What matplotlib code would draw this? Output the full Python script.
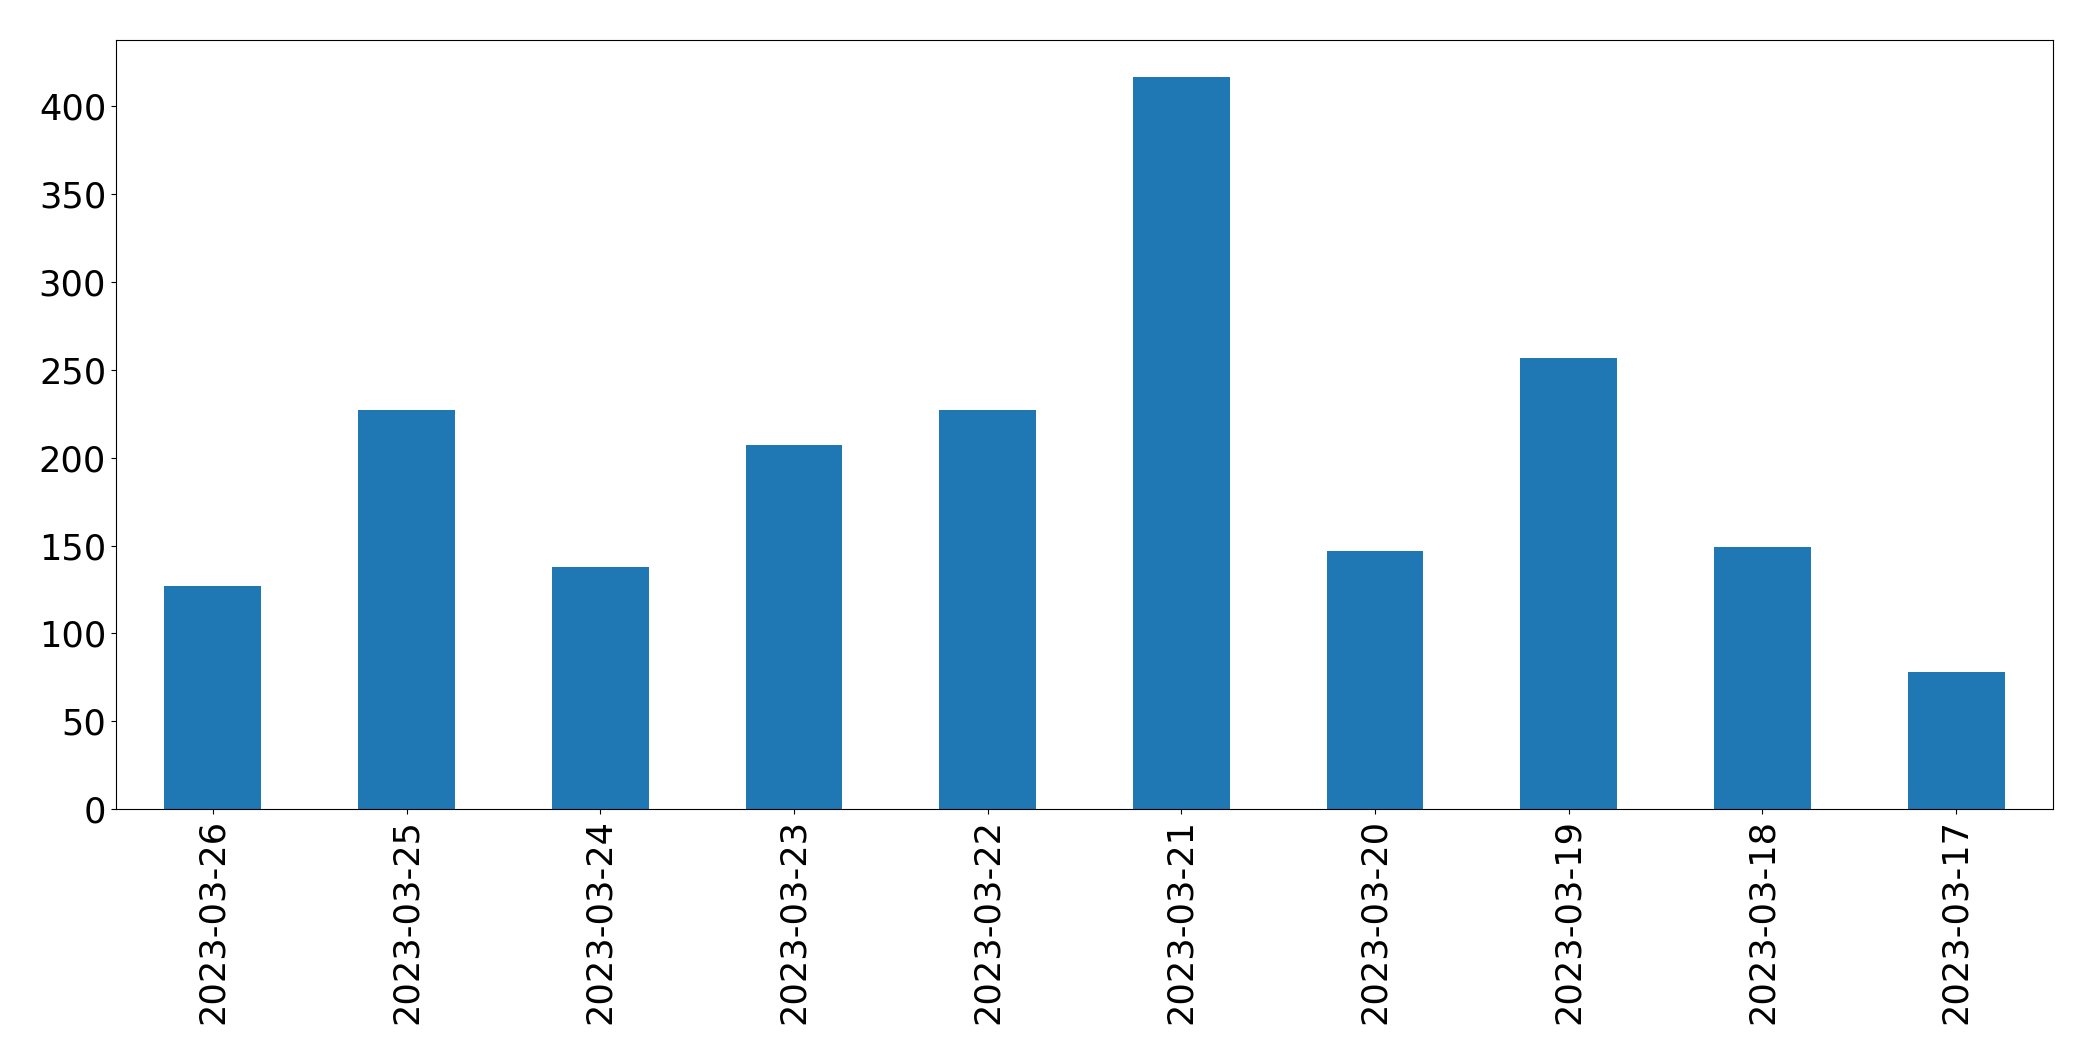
import matplotlib
matplotlib.use('Agg')
import matplotlib.pyplot as plt

# 每天的数量
dates = ['2023-03-26', '2023-03-25', '2023-03-24', '2023-03-23', '2023-03-22',
         '2023-03-21', '2023-03-20', '2023-03-19', '2023-03-18', '2023-03-17']
counts = [127, 227, 138, 207, 227, 417, 147, 257, 149, 78]

fig = plt.figure(figsize=(20.93, 10.61), dpi=100)
ax = fig.add_axes([0.0554, 0.2375, 0.9255, 0.7248])

x = list(range(len(dates)))
ax.bar(x, counts, width=0.5, color='#1f77b4')
ax.set_xlim(-0.5, len(dates) - 0.5)
ax.set_ylim(0, max(counts) * 1.05)
ax.set_xticks(x)
ax.set_xticklabels(dates, rotation=90)
ax.tick_params(labelsize=25.3)

fig.savefig('out.png', dpi=100)
